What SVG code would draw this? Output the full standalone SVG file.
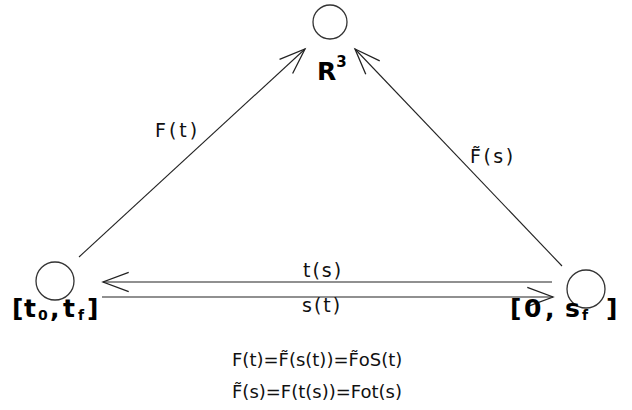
<svg xmlns="http://www.w3.org/2000/svg" width="632" height="410" viewBox="0 0 632 410">
<style>
.node{fill:none;stroke:#333;stroke-width:1.3}
.edge{fill:none;stroke:#222;stroke-width:1.1}
.lbl{font-family:"DejaVu Sans",Verdana,sans-serif;font-size:19px;fill:#111}
.eq{font-family:"DejaVu Sans",Verdana,sans-serif;font-size:18px;fill:#111}
.big{font-family:"DejaVu Sans",Verdana,sans-serif;font-size:25px;font-weight:bold;fill:#000}
.sub{font-size:14px}
.sup{font-size:15px}
</style>
<defs>
<marker id="arr" markerUnits="userSpaceOnUse" markerWidth="30" markerHeight="30" viewBox="-26 -13 28 26" refX="0" refY="0" orient="auto">
<path d="M-24,-9 L0,0 L-24,9" fill="none" stroke="#222" stroke-width="1.2"/>
</marker>
</defs>
<rect width="632" height="410" fill="#fff"/>
<g id="connectors">
<line class="edge" x1="79" y1="257" x2="305" y2="49" marker-end="url(#arr)"/>
<line class="edge" x1="562" y1="266" x2="355" y2="49" marker-end="url(#arr)"/>
<line class="edge" x1="552" y1="282" x2="103" y2="282" marker-end="url(#arr)"/>
<line class="edge" x1="102" y1="297" x2="553" y2="297" marker-end="url(#arr)"/>
<text class="lbl" x="155" y="137" letter-spacing="3">F(t)</text>
<text class="lbl" x="470" y="163" letter-spacing="2.5">F̃(s)</text>
<text class="lbl" x="303" y="277" letter-spacing="2">t(s)</text>
<text class="lbl" x="302" y="312" letter-spacing="2">s(t)</text>
</g>
<g id="node-R3">
<circle class="node" cx="330" cy="22" r="17"/>
<text class="big" x="317" y="80">R<tspan class="sup" dy="-13">3</tspan></text>
</g>
<g id="node-t">
<circle class="node" cx="55" cy="281" r="19"/>
<text class="big" y="317"><tspan x="12">[</tspan><tspan x="24">t</tspan><tspan class="sub" x="38" dy="3">0</tspan><tspan x="50" dy="-3">,</tspan><tspan x="63">t</tspan><tspan class="sub" x="78" dy="3">f</tspan><tspan x="87" dy="-3">]</tspan></text>
</g>
<g id="node-s">
<circle class="node" cx="586" cy="289" r="19"/>
<text class="big" y="317"><tspan x="510">[</tspan><tspan x="524">0</tspan><tspan x="545">,</tspan><tspan x="565">s</tspan><tspan class="sub" x="582" dy="3">f</tspan><tspan x="606" dy="-3">]</tspan></text>
</g>
<g id="equations">
<text class="eq" x="232" y="366">F(t)=F̃(s(t))=F̃oS(t)</text>
<text class="eq" x="232" y="398">F̃(s)=F(t(s))=Fot(s)</text>
</g>
</svg>
